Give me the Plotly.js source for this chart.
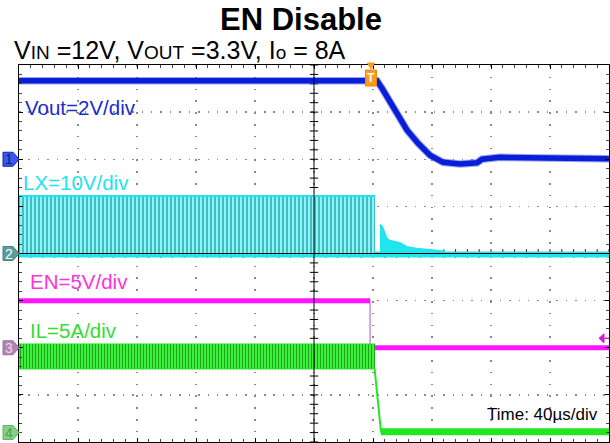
<!DOCTYPE html>
<html><head><meta charset="utf-8">
<script src="https://cdn.plot.ly/plotly-3.0.1.min.js"></script>
<style>html,body{margin:0;padding:0;background:#fff;}#chart{width:610px;height:443px;}</style>
</head><body><div id="chart"></div>
<script>
// ===== data read from the scope capture (time in µs, 40 µs/div) =====
const voutTime  = [-200, 42.7, 46.0, 49.5, 56.3, 63.1, 70.5, 78.6, 87.5, 99.0, 110.5, 113.9, 126.0, 148.5, 200];
const voutVolts = [3.33, 3.33, 3.02, 2.63, 1.95, 1.23, 0.68, 0.17, -0.13, -0.2, -0.15, 0.0, 0.08, 0.06, 0.02];

const lxSwTime  = [-200, 41.4];        // switching node, envelope while switching
const lxSwHigh  = [12.2, 12.2];
const lxSwLow   = [-0.3, -0.3];
const lxTailTime = [44.7, 46.3, 49.3, 51.5, 58.3, 62.8, 69.6, 77.3, 83.2, 88.8];
const lxTailHigh = [6.1, 5.6, 3.1, 2.7, 2.2, 1.4, 1.0, 0.8, 0.6, 0.4];
const lxBaseTime  = [-200, 200];
const lxBaseVolts = [-0.2, -0.2];

const enTime  = [-200, 38.0, 38.0, 200];
const enVolts = [5.0, 5.0, 0.0, 0.0];
const enTrigLevel = 1.0;
const trigTime = 38.6;

const ilSwTime = [-200, 41.4];          // inductor current ripple envelope
const ilSwHigh = [9.4, 9.4];
const ilSwLow  = [6.75, 6.75];
const ilTime = [41.0, 45.4, 200];
const ilAmps = [6.9, 0.1, 0.1];

const chLabels  = ['Vout=2V/div', 'LX=10V/div', 'EN=5V/div', 'IL=5A/div'];
const chScale   = [2, 10, 5, 5];        // units per division
const chOffset  = [2, 0, -2, -3.8];     // ground position in divisions
const chColor   = ['#0a1ed8', '#1fe6ee', '#ff14ff', '#22e622'];
const chText    = ['#1a2ec8', '#22e4f0', '#ff33d6', '#33dd33'];
const timeLabel = 'Time: 40µs/div';

// ===== layout helpers =====
const L = 19, T = 65, W = 590, H = 377;
const px = v => (v - L) / W;
const py = v => (T + H - v) / H;
const divPx = H / 8;
const font = 'Liberation Sans, Arial, sans-serif';
const chRange = i => [(-4 - chOffset[i]) * chScale[i], (4 - chOffset[i]) * chScale[i]];
const groundPx = i => T + H / 2 - chOffset[i] * divPx;

function splitVertical(xs, ys) {
  const ox = [], oy = [];
  for (let i = 0; i < xs.length; i++) {
    if (i > 0 && xs[i] === xs[i - 1]) { ox.push(null); oy.push(null); }
    ox.push(xs[i]); oy.push(ys[i]);
  }
  return [ox, oy];
}
const [enX, enY] = splitVertical(enTime, enVolts);

const base = {mode: 'lines', hoverinfo: 'skip', showlegend: false};
const data = [
  // LX
  {...base, x: lxBaseTime, y: lxBaseVolts, yaxis: 'y3', line: {color: chColor[1], width: 6}},
  {...base, x: lxSwTime, y: lxSwLow, yaxis: 'y3', line: {color: chColor[1], width: 1}},
  {...base, x: lxSwTime, y: lxSwHigh, yaxis: 'y3', fill: 'tonexty', line: {color: chColor[1], width: 2},
    fillcolor: '#38c4c8',
    fillpattern: {shape: '|', bgcolor: '#3cc0c4', fgcolor: '#9af8fb', size: 4, solidity: 0.45}},
  {...base, x: lxTailTime, y: lxTailHigh, yaxis: 'y3', fill: 'tozeroy', fillcolor: chColor[1], line: {color: chColor[1], width: 2}},
  // Vout
  {...base, x: voutTime, y: voutVolts, yaxis: 'y2', line: {color: 'rgba(60,80,240,0.5)', width: 7.5}},
  {...base, x: voutTime, y: voutVolts, yaxis: 'y2', line: {color: chColor[0], width: 5.5}},
  // EN
  {...base, x: enTime, y: enVolts, yaxis: 'y4', line: {color: '#c890c8', width: 1.5}},
  {...base, x: enX, y: enY, yaxis: 'y4', connectgaps: false, line: {color: chColor[2], width: 5}},
  // IL
  {...base, x: ilSwTime, y: ilSwLow, yaxis: 'y5', line: {color: chColor[3], width: 1}},
  {...base, x: ilSwTime, y: ilSwHigh, yaxis: 'y5', fill: 'tonexty', line: {color: chColor[3], width: 1},
    fillcolor: '#3ee83e',
    fillpattern: {shape: '|', bgcolor: '#3cf03c', fgcolor: '#1c9c1c', size: 3, solidity: 0.3}},
  {...base, x: ilTime, y: ilAmps, yaxis: 'y5', line: {color: chColor[3], width: 2}},
  {...base, x: ilTime.slice(1), y: ilAmps.slice(1), yaxis: 'y5', line: {color: chColor[3], width: 7}},
];

// minor ticks on the centre cross (decoration)
const tx = [], ty = [];
for (let k = -25; k <= 25; k++) { tx.push(k * 8); ty.push(0); }
const vx = [], vy = [];
for (let k = -20; k <= 20; k++) { vx.push(0); vy.push(k * 0.2); }
data.push({mode: 'markers', x: tx, y: ty, hoverinfo: 'skip', showlegend: false,
  marker: {symbol: 'line-ns', size: 6, line: {width: 1, color: '#000'}}});
data.push({mode: 'markers', x: vx, y: vy, hoverinfo: 'skip', showlegend: false,
  marker: {symbol: 'line-ew', size: 6, line: {width: 1, color: '#000'}}});

const shapes = [
  {type: 'line', xref: 'x', yref: 'y', x0: -200, x1: 200, y0: 0, y1: 0, line: {color: '#000', width: 1}, layer: 'above'},
  {type: 'line', xref: 'x', yref: 'y', x0: 0, x1: 0, y0: -4, y1: 4, line: {color: '#000', width: 1}, layer: 'above'},
];
const markerFill = ['#3a58f0', '#5a9c9c', '#b483b4', '#80d480'];
const markerLine = ['#1020a0', '#4a8484', '#a070a0', '#60b060'];
const markerNum  = ['#101a80', '#ffffff', '#e8d8e8', '#5a9a5a'];
const annotations = [];
for (let i = 0; i < 4; i++) {
  const cy = groundPx(i);
  shapes.push({type: 'path', xref: 'paper', yref: 'paper', layer: 'above',
    path: `M${px(3)},${py(cy - 7)} L${px(13)},${py(cy - 7)} L${px(19)},${py(cy)} L${px(13)},${py(cy + 7)} L${px(3)},${py(cy + 7)} Z`,
    fillcolor: markerFill[i], line: {color: markerLine[i], width: 1}});
  annotations.push({xref: 'paper', yref: 'paper', x: px(9), y: py(cy), text: String(i + 1), showarrow: false,
    xanchor: 'center', yanchor: 'middle', font: {family: font, size: 14, color: markerNum[i]}});
}
// trigger marker
const usPerPx = 40 / 59;
shapes.push({type: 'rect', xref: 'x', yref: 'paper', x0: trigTime - 5.5 * usPerPx, x1: trigTime + 5.5 * usPerPx,
  y0: py(86), y1: py(70), fillcolor: '#ff9a1e', line: {color: '#e88a10', width: 1}, layer: 'above'});
shapes.push({type: 'path', xref: 'x', yref: 'paper', layer: 'above', fillcolor: '#ff9a1e', line: {color: '#ff9a1e', width: 1},
  path: `M${trigTime - 3.5 * usPerPx},${py(63)} L${trigTime + 3.5 * usPerPx},${py(63)} L${trigTime},${py(69)} Z`});
annotations.push({xref: 'x', yref: 'paper', x: trigTime, y: py(78), text: '<b>T</b>', showarrow: false,
  xanchor: 'center', yanchor: 'middle', font: {family: font, size: 12, color: '#fff'}});
// trigger level arrow (EN)
const trigPx = groundPx(2) - enTrigLevel / chScale[2] * divPx;
shapes.push({type: 'path', xref: 'paper', yref: 'paper', layer: 'above', fillcolor: '#d020d0', line: {color: '#d020d0', width: 1},
  path: `M${px(599)},${py(trigPx)} L${px(604)},${py(trigPx - 4.5)} L${px(604)},${py(trigPx + 4.5)} Z`});
shapes.push({type: 'line', xref: 'paper', yref: 'paper', layer: 'above', x0: px(603), x1: px(609), y0: py(trigPx), y1: py(trigPx),
  line: {color: '#d020d0', width: 1.5}});

// channel labels
const labelX = [23, 21, 28, 28];
const labelY = [107, 182, 281, 330];
for (let i = 0; i < 4; i++) {
  annotations.push({xref: 'paper', yref: 'paper', x: px(labelX[i]), y: py(labelY[i]), text: chLabels[i], showarrow: false,
    xanchor: 'left', yanchor: 'middle', font: {family: font, size: 20.5, color: chText[i]}});
}
annotations.push({xref: 'paper', yref: 'paper', x: px(600), y: py(414), text: timeLabel, showarrow: false,
  xanchor: 'right', yanchor: 'middle', font: {family: font, size: 17, color: '#000'}});
// subtitle
const sub = s => `<span style="font-size:19px">${s}</span>`;
annotations.push({xref: 'paper', yref: 'paper', x: px(12), y: py(50), showarrow: false, xanchor: 'left', yanchor: 'middle',
  text: `V${sub('IN')} =12V, V${sub('OUT')} =3.3V, I${sub('o')} = 8A`, font: {family: font, size: 25, color: '#000'}});

const chAxis = i => ({range: chRange(i), overlaying: 'y', visible: false, fixedrange: true});
const layout = {
  width: 610, height: 443,
  margin: {l: L, r: 610 - L - W, t: T, b: 443 - T - H, pad: 0},
  paper_bgcolor: '#fff', plot_bgcolor: '#fff',
  title: {text: '<b>EN Disable</b>', font: {family: font, size: 31, color: '#000'},
    xref: 'container', x: 301 / 610, xanchor: 'center', yref: 'container', y: 1 - 19 / 443, yanchor: 'middle'},
  xaxis: {range: [-200, 200], dtick: 40, tick0: 0, showticklabels: false, zeroline: false,
    showgrid: true, gridcolor: '#8a8a8a', gridwidth: 1.5, griddash: '1.5px,10.3px',
    showline: true, linecolor: '#000', linewidth: 1.5, mirror: 'ticks',
    ticks: 'inside', ticklen: 4, tickcolor: '#000', tickwidth: 1,
    minor: {dtick: 8, ticks: 'inside', ticklen: 3, tickcolor: '#444', showgrid: false}, fixedrange: true},
  yaxis: {range: [-4, 4], dtick: 1, tick0: 0, showticklabels: false, zeroline: false,
    showgrid: true, gridcolor: '#8a8a8a', gridwidth: 1.5, griddash: '1.5px,7.925px',
    showline: true, linecolor: '#000', linewidth: 1.5, mirror: 'ticks',
    ticks: 'inside', ticklen: 4, tickcolor: '#000', tickwidth: 1,
    minor: {dtick: 0.2, ticks: 'inside', ticklen: 3, tickcolor: '#444', showgrid: false}, fixedrange: true},
  yaxis2: chAxis(0), yaxis3: chAxis(1), yaxis4: chAxis(2), yaxis5: chAxis(3),
  shapes, annotations,
};
Plotly.newPlot('chart', data, layout, {staticPlot: true, displayModeBar: false});
</script></body></html>
